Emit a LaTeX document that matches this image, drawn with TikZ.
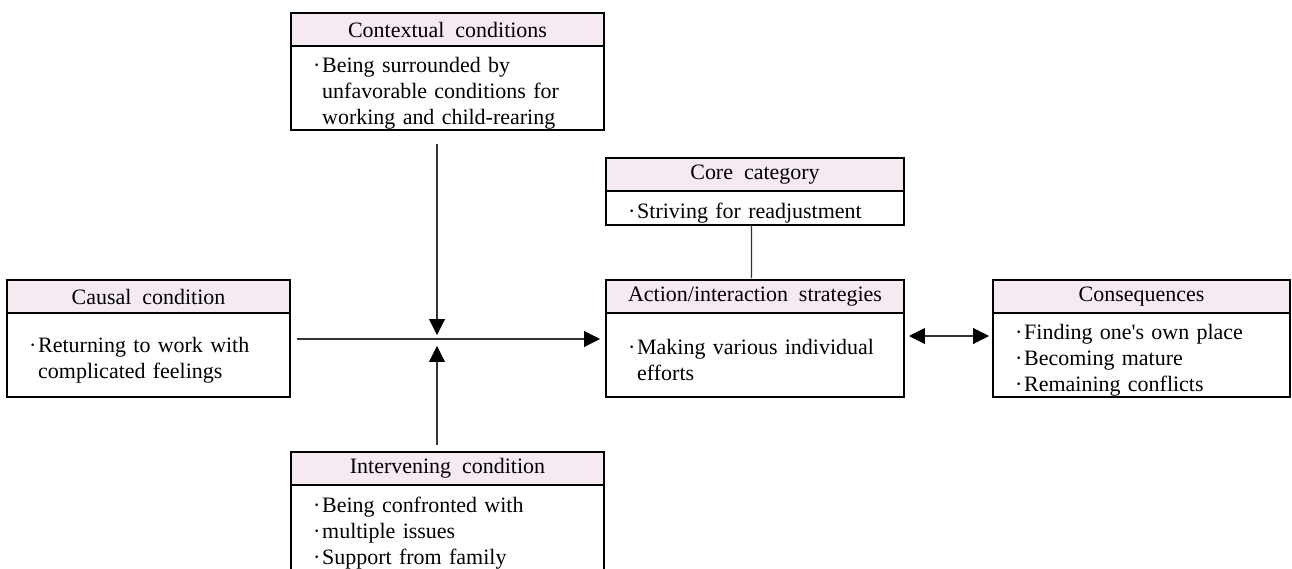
\documentclass[tikz,border=0pt]{standalone}
\usepackage{fontspec}
\setmainfont{Liberation Serif}
\usetikzlibrary{calc, arrows.meta, positioning}
\definecolor{headpink}{HTML}{F5E9F2}
\definecolor{linkgray}{HTML}{333333}
\newcommand{\bul}{\makebox[0.42em][l]{·}}
\newcommand{\hang}{\hspace*{0.42em}}
\tikzset{
  headbox/.style={draw, fill=headpink, line width=0.8pt, anchor=north west,
    minimum height=0.66cm, minimum width=#1, inner sep=0pt, outer sep=0pt,
    font=\fontsize{12.5}{14.8}\selectfont},
  bodybox/.style={draw, line width=0.8pt, anchor=north west, align=left,
    text width=#1, text height=0.5cm, inner xsep=0.44cm, inner ysep=0pt, outer sep=0pt,
    font=\fontsize{12.5}{14.8}\selectfont},
  link/.style={draw=linkgray, line width=0.6pt},
  >={Triangle[length=9pt,width=9pt,color=black]}
}

\begin{document}
\begin{tikzpicture}
    \useasboundingbox (0,0) rectangle (25.84,11.36);

    % contextual conditions
    \node[headbox=6.26cm] (ctxhead) at (5.82,11.10) {Contextual\hspace{0.5em}conditions};
    \node[bodybox=5.38cm, minimum height=1.68cm] (ctxbody) at (ctxhead.south west)
        {\bul Being surrounded by\\ \hang unfavorable conditions for\\ \hang working and child-rearing};

    % core category
    \node[headbox=5.96cm] (corehead) at (12.12,8.20) {Core\hspace{0.5em}category};
    \node[bodybox=5.08cm, minimum height=0.68cm] (corebody) at (corehead.south west)
        {\bul Striving for readjustment};

    % causal condition
    \node[headbox=5.66cm] (caushead) at (0.14,5.76) {Causal\hspace{0.5em}condition};
    \node[bodybox=4.78cm, minimum height=1.68cm] (causbody) at (caushead.south west)
        {\bul Returning to work with\\ \hang complicated feelings};

    % action/interaction strategies
    \node[headbox=5.96cm] (acthead) at (12.12,5.76) {Action/interaction\hspace{0.5em}strategies};
    \node[bodybox=5.08cm, minimum height=1.68cm] (actbody) at (acthead.south west)
        {\bul Making various individual\\ \hang efforts};

    % consequences
    \node[headbox=5.94cm] (conshead) at (19.86,5.76) {Consequences};
    \node[bodybox=5.06cm, minimum height=1.68cm] (consbody) at (conshead.south west)
        {\bul Finding one\textquotesingle s own place\\ \bul Becoming mature\\ \bul Remaining conflicts};

    % intervening condition
    \node[headbox=6.26cm] (inthead) at (5.82,2.32) {Intervening\hspace{0.5em}condition};
    \node[bodybox=5.38cm, minimum height=1.72cm] (intbody) at (inthead.south west)
        {\bul Being confronted with\\ \bul multiple issues\\ \bul Support from family};

    % connectors
    \coordinate (meet) at (8.74,4.58);
    \coordinate (side) at (19,4.64);
    \draw[link, ->, shorten <=0.28cm, shorten >=0.08cm] (ctxbody.south -| meet) -- (meet);
    \draw[link, ->, shorten <=0.14cm, shorten >=0.14cm] (inthead.north -| meet) -- (meet);
    \draw[link, ->, shorten <=0.14cm, shorten >=0.12cm] (meet -| causbody.east) -- (meet -| actbody.west);
    \draw[link, shorten >=0.04cm] ([xshift=-0.07cm]corebody.south) -- ([xshift=-0.07cm]acthead.north);
    \draw[link, <->, shorten <=0.1cm, shorten >=0.08cm] (side -| actbody.east) -- (side -| consbody.west);
\end{tikzpicture}
\end{document}
